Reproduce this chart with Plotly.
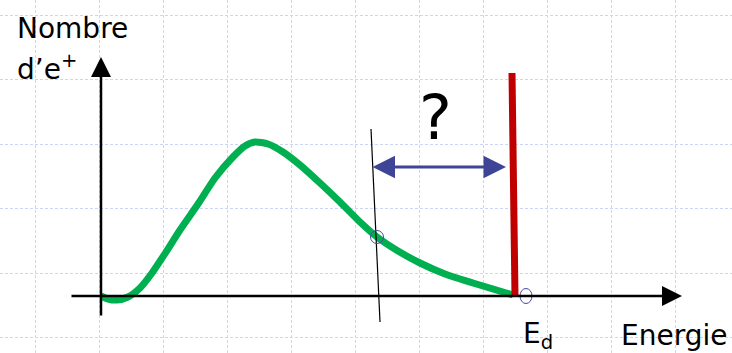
import plotly.graph_objects as go

# Positron count spectrum (arbitrary units) versus energy
energy = [0, 7, 16, 27, 39, 51, 65, 79, 97, 114, 131, 144, 154, 167, 182,
          199, 219, 239, 259, 276, 297, 319, 344, 372, 412]
count = [0, -3, -4, -1, 8, 23, 44, 66, 92, 118, 138, 150, 154, 152, 144,
         131, 113, 94, 74, 59, 45, 33, 22, 13, 1]

# Endpoint energy E_d marker (vertical bar)
ed_x = [411, 414]
ed_y = [223, 0]

# Tangent line drawn through the tail of the spectrum
tan_x = [270, 279]
tan_y = [167, -26]

# Gap between the tangent and E_d
gap_x = [270, 405]
gap_y = 129

# Points marked on the curve / axis
mark_pts = [(276, 59), (425, 0)]

X_RANGE = [-101, 631]
Y_RANGE = [-57, 296]

FONT = "DejaVu Sans"
GRID = "#cdd5f6"

fig = go.Figure()

fig.add_trace(go.Scatter(
    x=energy, y=count, mode="lines",
    line=dict(color="#00b050", width=7, shape="spline", smoothing=0.6),
    hoverinfo="skip"))

fig.add_trace(go.Scatter(
    x=ed_x, y=ed_y, mode="lines",
    line=dict(color="#c00000", width=7), hoverinfo="skip"))

fig.add_trace(go.Scatter(
    x=tan_x, y=tan_y, mode="lines",
    line=dict(color="#000000", width=1.2), hoverinfo="skip"))

# Small open circles
fig.add_shape(type="circle", xref="x", yref="y",
              x0=mark_pts[0][0] - 6.5, x1=mark_pts[0][0] + 6.5,
              y0=mark_pts[0][1] - 6.5, y1=mark_pts[0][1] + 6.5,
              line=dict(color="#4848a0", width=1))
fig.add_shape(type="circle", xref="x", yref="y",
              x0=mark_pts[1][0] - 6, x1=mark_pts[1][0] + 6,
              y0=mark_pts[1][1] - 7.5, y1=mark_pts[1][1] + 7.5,
              line=dict(color="#4848a0", width=1))

ann = []
# Axes drawn as arrows
ann.append(dict(x=0, y=239, ax=0, ay=-21, xref="x", yref="y", axref="x", ayref="y",
                showarrow=True, arrowhead=2, arrowsize=1.6, arrowwidth=2.5,
                arrowcolor="#000000", text=""))
ann.append(dict(x=581, y=0, ax=-31, ay=0, xref="x", yref="y", axref="x", ayref="y",
                showarrow=True, arrowhead=2, arrowsize=1.6, arrowwidth=2.5,
                arrowcolor="#000000", text=""))
# Double-headed arrow for the unknown gap
ann.append(dict(x=gap_x[1], y=gap_y, ax=gap_x[0], ay=gap_y,
                xref="x", yref="y", axref="x", ayref="y",
                showarrow=True, arrowhead=2, startarrowhead=2, arrowside="end+start",
                arrowsize=1.5, startarrowsize=1.5, arrowwidth=3,
                arrowcolor="#3f4596", text=""))

def label(txt, x, y, size, xanchor="left"):
    ann.append(dict(x=x, y=y, xref="x", yref="y", text=txt, showarrow=False,
                    xanchor=xanchor, yanchor="middle",
                    font=dict(family=FONT, size=size, color="#000000")))

label("Nombre", -86, 268, 28)
label("d\u2019e<sup>+</sup>", -86, 229, 28)
label("?", 334, 179, 62, xanchor="center")
label("E<sub>d</sub>", 420, -39, 28)
label("Energie", 518, -39, 28)

fig.update_layout(
    width=732, height=353,
    margin=dict(l=0, r=0, t=0, b=0),
    paper_bgcolor="white", plot_bgcolor="white",
    showlegend=False,
    annotations=ann,
    xaxis=dict(range=X_RANGE, showgrid=True, gridcolor=GRID, griddash="3px,2px",
               gridwidth=1, tick0=-66, dtick=64, zeroline=False,
               showticklabels=False, ticks="", showline=False, fixedrange=True),
    yaxis=dict(range=Y_RANGE, showgrid=True, gridcolor=GRID, griddash="3px,2px",
               gridwidth=1, tick0=23, dtick=64.4, zeroline=False,
               showticklabels=False, ticks="", showline=False, fixedrange=True),
)

fig.write_html("out.html")
